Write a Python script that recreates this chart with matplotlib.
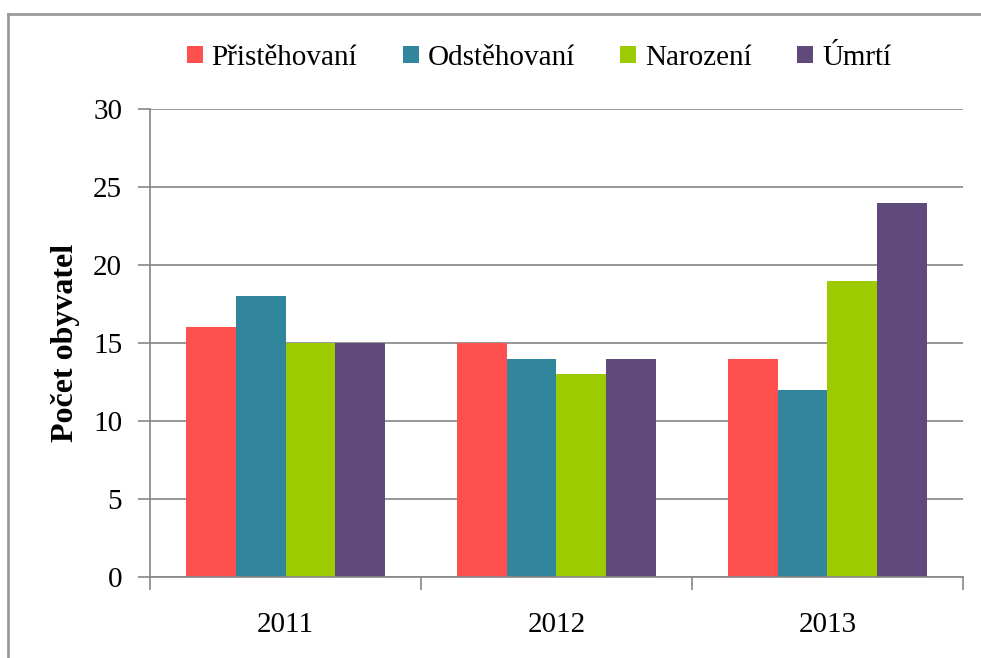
import matplotlib
matplotlib.use("Agg")
import matplotlib.pyplot as plt
import numpy as np
from matplotlib.lines import Line2D

plt.rcParams['font.family'] = ['Liberation Serif', 'DejaVu Serif']

years = ['2011', '2012', '2013']
series = ['Přistěhovaní', 'Odstěhovaní', 'Narození', 'Úmrtí']
values = {
    'Přistěhovaní': [16, 15, 14],
    'Odstěhovaní': [18, 14, 12],
    'Narození': [15, 13, 19],
    'Úmrtí': [15, 14, 24],
}
colors = ['#FF5050', '#31859C', '#9BCB00', '#604A7B']

W, H = 981, 658
fig = plt.figure(figsize=(W / 100, H / 100), dpi=100)
ax = fig.add_axes([150 / W, 1 - 577 / H, (963 - 150) / W, (577 - 109) / H])

# figure border (right/bottom run off the image)
fig.add_artist(Line2D([8 / W, 1.0], [1 - 14 / H, 1 - 14 / H], transform=fig.transFigure,
                      color='#9a9a9a', lw=2))
fig.add_artist(Line2D([8 / W, 8 / W], [0, 1 - 14 / H], transform=fig.transFigure,
                      color='#9a9a9a', lw=2))

x = np.arange(len(years))
bw = 0.183
for i, (s, c) in enumerate(zip(series, colors)):
    ax.bar(x + (i - 1.5) * bw, values[s], width=bw, color=c, label=s, zorder=3)

ax.set_xlim(-0.5, 2.5)
ax.set_ylim(0, 30)
ax.set_yticks(range(0, 31, 5))
ax.yaxis.grid(True, color='#868686', lw=1.2, zorder=0)
ax.set_axisbelow(True)

for sp in ['top', 'right']:
    ax.spines[sp].set_visible(False)
for sp in ['left', 'bottom']:
    ax.spines[sp].set_color('#868686')
    ax.spines[sp].set_linewidth(1.2)
    ax.spines[sp].set_zorder(4)

ax.set_xticks([-0.5, 0.5, 1.5, 2.5])
ax.set_xticklabels([])
ax.set_xticks(x, minor=True)
ax.set_xticklabels(years, minor=True)
ax.tick_params(axis='x', which='major', length=9, width=1.2, color='#868686', direction='out')
ax.tick_params(axis='x', which='minor', length=0, pad=25, labelsize=21)
ax.tick_params(axis='y', length=9, width=1.2, color='#868686', labelsize=21, pad=11)

ax.set_ylabel('Počet obyvatel', fontsize=23, fontweight='bold', labelpad=9)

leg = fig.legend(loc='center', bbox_to_anchor=(539 / W, 1 - 58 / H), ncol=4, frameon=False,
                 fontsize=21, handlelength=0.55, handleheight=0.55, handletextpad=0.3,
                 columnspacing=1.56)

fig.savefig('out.png', dpi=100)
